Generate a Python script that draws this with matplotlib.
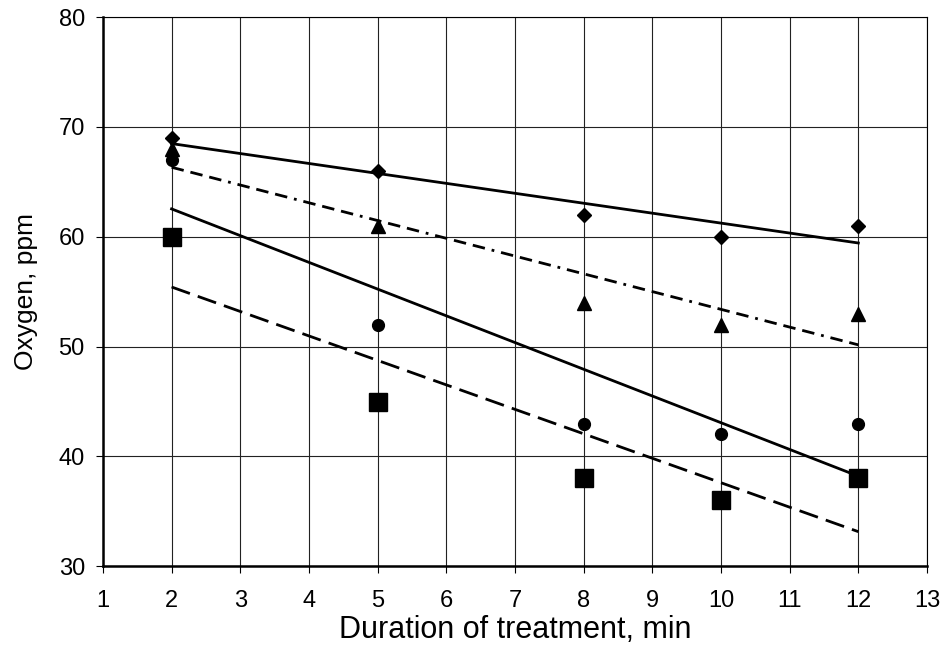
import matplotlib
matplotlib.use("Agg")
import matplotlib.pyplot as plt
import numpy as np

plt.rcParams['font.family'] = ['Liberation Sans', 'DejaVu Sans']

# measured durations (min) and oxygen contents (ppm) for the four series
duration = [2, 5, 8, 10, 12]
oxygen_diamond = [69, 66, 62, 60, 61]
oxygen_triangle = [68, 61, 54, 52, 53]
oxygen_circle = [67, 52, 43, 42, 43]
oxygen_square = [60, 45, 38, 36, 38]

x_ticks = list(range(1, 14))
y_ticks = [30, 40, 50, 60, 70, 80]

fig = plt.figure(figsize=(9.44, 6.6), dpi=100)
ax = fig.add_axes([0.109, 0.142, 0.873, 0.832])

series = [
    (oxygen_diamond, 'D', 7.5, '-'),
    (oxygen_triangle, '^', 10, (0, (4.5, 2.5, 4.5, 2.5, 4.5, 2.5, 1, 2.5))),
    (oxygen_circle, 'o', 8.5, '-'),
    (oxygen_square, 's', 13, (0, (7, 3))),
]

x = np.array(duration, dtype=float)
for vals, marker, ms, ls in series:
    y = np.array(vals, dtype=float)
    ax.plot(x, y, linestyle='none', marker=marker, markersize=ms,
            color='black', zorder=3)
    k, b = np.polyfit(x, y, 1)
    xx = np.array([x.min(), x.max()])
    ax.plot(xx, k * xx + b, color='black', linewidth=2, linestyle=ls, zorder=2)

ax.set_xlim(1, 13)
ax.set_ylim(30, 80)
ax.set_xticks(x_ticks)
ax.set_yticks(y_ticks)
ax.grid(True, color='#222222', linewidth=0.8)
ax.set_axisbelow(True)

for side in ['top', 'right']:
    ax.spines[side].set_linewidth(0.8)
for side in ['left', 'bottom']:
    ax.spines[side].set_linewidth(1.8)

ax.tick_params(axis='both', direction='out', length=5, width=0.8,
               labelsize=17, colors='black')
ax.tick_params(axis='x', pad=12)
ax.tick_params(axis='y', pad=8)

ax.set_xlabel('Duration of treatment, min', fontsize=22, labelpad=2)
ax.set_ylabel('Oxygen, ppm', fontsize=19, labelpad=15)

fig.savefig('out.png', dpi=100)
